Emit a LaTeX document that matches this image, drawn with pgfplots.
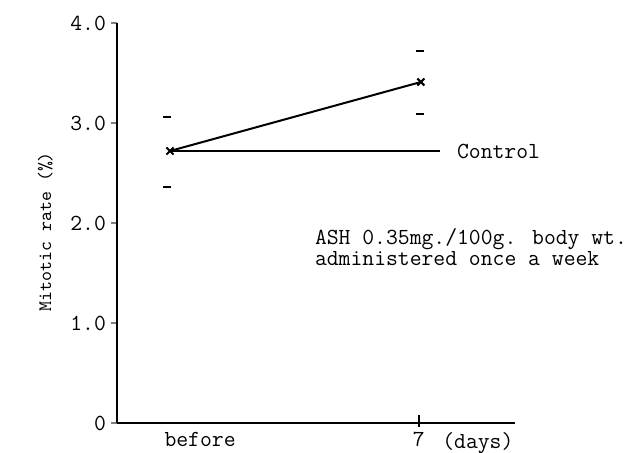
\documentclass[border=0pt]{standalone}
\usepackage{fontspec}
\usepackage{pgfplots}
\pgfplotsset{compat=1.18}
\newcommand{\tw}{\fontsize{11.5}{10.5}\selectfont\ttfamily}
\begin{document}
\ttfamily
\begin{tikzpicture}
\begin{axis}[
  at={(0pt,0pt)}, anchor=south west,
  scale only axis, width=199pt, height=200pt,
  xmin=-0.211, xmax=1.375, ymin=0, ymax=4,
  axis x line=bottom, axis y line=left,
  axis line style={-, line width=0.8pt},
  clip=false,
  ytick={0,1,2,3,4}, yticklabels={0,1.0,2.0,3.0,4.0},
  xtick={0.12,0.992,1.227}, xticklabels={before,7,(days)},
  x tick style={draw=none},
  y tick style={line width=0.8pt},
  tick align=outside, major tick length=3pt,
  tick label style={font=\tw},
  yticklabel style={xshift=1pt},
  xticklabel style={yshift=2pt},
  ylabel={Mitotic rate (\%)},
  ylabel style={font=\fontsize{9.5}{10}\selectfont\ttfamily, at={(rel axis cs:-0.18,0.478)}, anchor=center},
]
\addplot[black, line width=1pt, no marks] coordinates {(0,2.72) (1.076,2.72)};
\addplot[black, line width=1pt, mark=x, mark size=2.5pt] coordinates {(0,2.72) (1,3.41)};
\addplot[black, only marks, mark=-, mark size=2pt, mark options={line width=1pt}] coordinates {(-0.01,3.06) (-0.01,2.36) (0.995,3.72) (0.995,3.09)};
\draw[line width=0.8pt] ([yshift=-2pt]axis cs:0.992,0) -- ([yshift=4pt]axis cs:0.992,0);
\node[anchor=west, font=\tw] at (axis cs:1.116,2.72) {Control};
\node[anchor=west, align=left, font=\tw] at (axis cs:0.55,1.755) {ASH 0.35mg./100g. body wt.\\administered once a week};
\end{axis}
\pgfresetboundingbox
\path (-58.5pt,-14.5pt) rectangle (258.5pt,211.5pt);
\end{tikzpicture}
\end{document}
